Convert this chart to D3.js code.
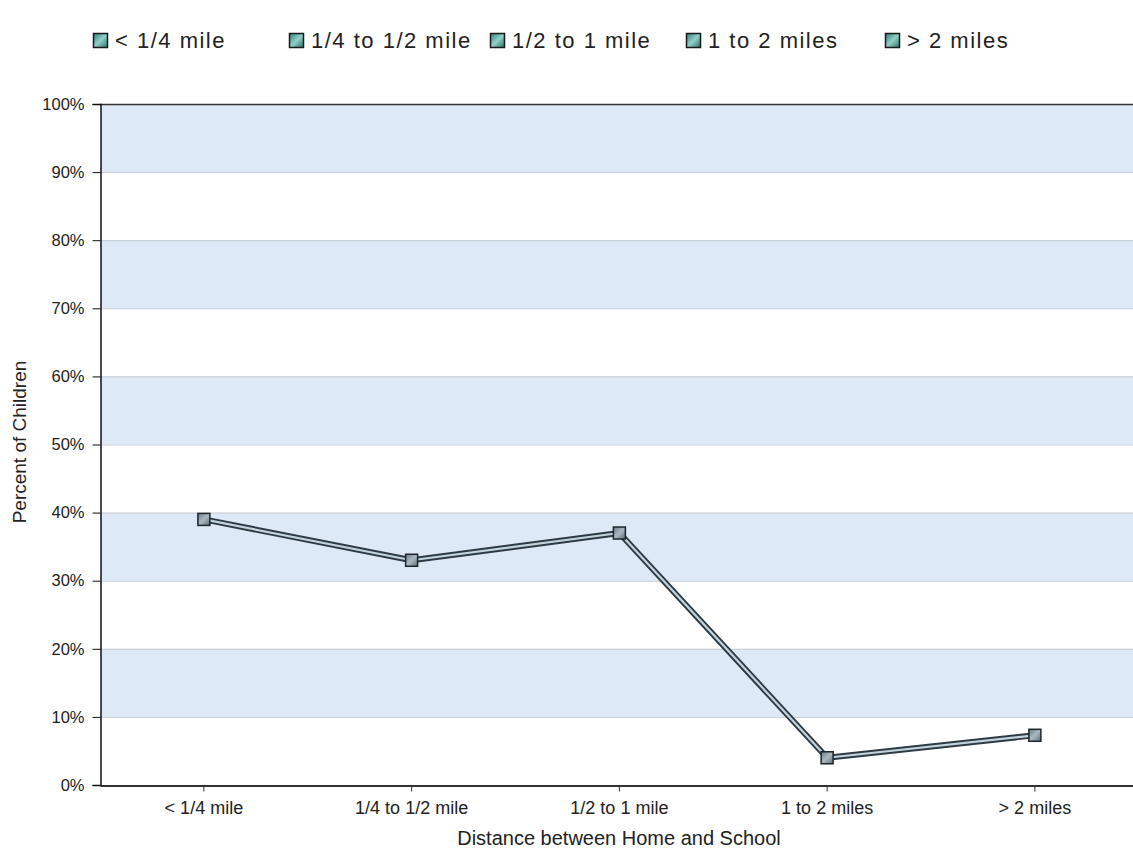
<!DOCTYPE html>
<html><head><meta charset="utf-8">
<script src="https://cdn.jsdelivr.net/npm/d3@7"></script>
<style>body{margin:0;background:#fff;}svg{display:block;font-family:"Liberation Sans",Arial,sans-serif;}</style>
</head><body>
<svg id="c" width="1133" height="853"></svg>
<script>
const categories = ["< 1/4 mile","1/4 to 1/2 mile","1/2 to 1 mile","1 to 2 miles","> 2 miles"];
const values = [39, 33, 37, 4, 7.3];
const yTicks = [0,10,20,30,40,50,60,70,80,90,100];
const legendLabels = ["< 1/4 mile","1/4 to 1/2 mile","1/2 to 1 mile","1 to 2 miles","> 2 miles"];
const legendX = [93, 289, 490, 686, 885];

(function(){
const svg = d3.select("#c");
const pLeft = 100, pTop = 104, pBottom = 785;
const x = d3.scaleBand().domain(categories).range([pLeft, pLeft + 5*207.75]);
const y = d3.scaleLinear().domain([0,100]).range([pBottom, pTop]);

const defs = svg.append("defs");
const lg = defs.append("linearGradient").attr("id","lg").attr("x1","0").attr("y1","0").attr("x2","1").attr("y2","1");
lg.append("stop").attr("offset","0").attr("stop-color","#2f7f78");
lg.append("stop").attr("offset","0.5").attr("stop-color","#8fd0c8");
lg.append("stop").attr("offset","1").attr("stop-color","#2f6f6a");
const mg = defs.append("linearGradient").attr("id","mg").attr("x1","0").attr("y1","0").attr("x2","1").attr("y2","1");
mg.append("stop").attr("offset","0").attr("stop-color","#6d7b86");
mg.append("stop").attr("offset","0.5").attr("stop-color","#aab8c2");
mg.append("stop").attr("offset","1").attr("stop-color","#5f6d78");

const bands = yTicks.slice(0,-1).filter(t => (t/10)%2===1);
svg.append("g").selectAll("rect").data(bands).join("rect")
  .attr("x", pLeft+1).attr("width", 1133-pLeft)
  .attr("y", d => y(d+10)).attr("height", d => y(d)-y(d+10))
  .attr("fill", "#dde9f7");

svg.append("g").selectAll("line").data(yTicks.filter(t=>t>0 && t<100)).join("line")
  .attr("x1", pLeft).attr("x2", 1133)
  .attr("y1", d => y(d)+0.5).attr("y2", d => y(d)+0.5)
  .attr("stroke", "#c4cbd3").attr("stroke-width", 1);

svg.append("line").attr("x1", pLeft).attr("x2", 1133).attr("y1", y(100)+0.5).attr("y2", y(100)+0.5)
  .attr("stroke", "#333").attr("stroke-width", 1.5);

const yAxis = d3.axisLeft(y).tickValues(yTicks).tickFormat(d => d + "%").tickSize(8).tickPadding(8);
const ya = svg.append("g").attr("transform", `translate(${pLeft+0.5},0)`).call(yAxis);
ya.select(".domain").attr("stroke", "#111").attr("stroke-width", 1.5);
ya.selectAll(".tick line").attr("stroke", "#111");
ya.selectAll("text").attr("font-size", 16.5).attr("fill", "#222");

const xAxis = d3.axisBottom(x).tickSize(6).tickPadding(10).tickSizeOuter(0);
const xa = svg.append("g").attr("transform", `translate(0,${pBottom+0.5})`).call(xAxis);
xa.select(".domain").attr("stroke", "#333").attr("stroke-width", 2);
xa.selectAll(".tick line").attr("stroke", "#333");
xa.selectAll("text").attr("font-size", 18).attr("fill", "#222");

svg.append("text").attr("x", 619).attr("y", 845).attr("text-anchor","middle")
  .attr("font-size", 20).attr("fill","#222").text("Distance between Home and School");
svg.append("text").attr("transform", `translate(26,442) rotate(-90)`).attr("text-anchor","middle")
  .attr("font-size", 19).attr("fill","#222").text("Percent of Children");

const cx = d => x(d) + x.bandwidth()/2;
const pts = categories.map((c,i) => [cx(c), y(values[i])]);
const line = d3.line();
svg.append("path").attr("d", line(pts)).attr("fill","none").attr("stroke","#2e3a44").attr("stroke-width",6).attr("stroke-linejoin","round");
svg.append("path").attr("d", line(pts)).attr("fill","none").attr("stroke","#c2d5df").attr("stroke-width",2.2).attr("stroke-linejoin","round");

svg.append("g").selectAll("rect").data(pts).join("rect")
  .attr("x", d => d[0]-6).attr("y", d => d[1]-6).attr("width", 12).attr("height", 12)
  .attr("fill", "url(#mg)").attr("stroke", "#1e262c").attr("stroke-width", 1.5);

const leg = svg.append("g").selectAll("g").data(legendLabels).join("g")
  .attr("transform", (d,i) => `translate(${legendX[i]},0)`);
leg.append("rect").attr("x", 0.5).attr("y", 33.5).attr("width", 14).attr("height", 14)
  .attr("fill", "url(#lg)").attr("stroke", "#1a1a1a").attr("stroke-width", 1.5);
leg.append("text").attr("x", 22).attr("y", 48).attr("font-size", 22).attr("letter-spacing", 1.5).attr("fill", "#222").text(d => d);
})();
</script>
</body></html>
